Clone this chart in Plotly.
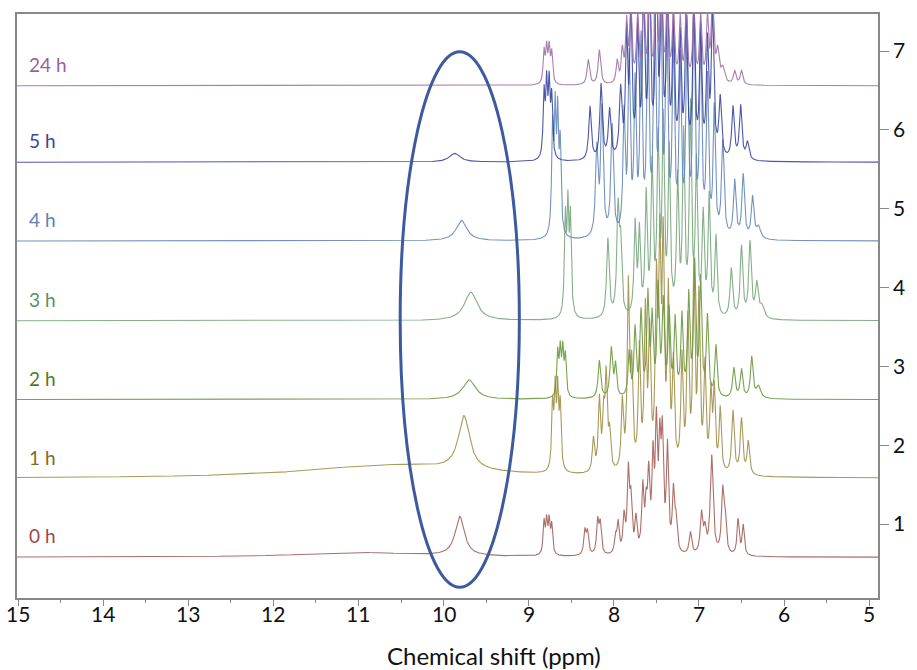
import numpy as np
import plotly.graph_objects as go

# ---------------- data ----------------
labels = ["0 h", "1 h", "2 h", "3 h", "4 h", "5 h", "24 h"]
offsets = [0.58, 1.58, 2.58, 3.58, 4.59, 5.59, 6.56]
line_colors = ["#a3605a", "#a09048", "#6a9a3c", "#78a87e", "#6688bb", "#3a46a0", "#a070a8"]
label_colors = ["#9a4a45", "#7f6a1e", "#4f7a26", "#5b8f62", "#6080b0", "#3a4598", "#9a5fa0"]

# peak lists: (shift ppm, height, fwhm ppm)
peaks_0h = [(11.0, 0.06, 1.6), (9.81, 0.50, 0.13),
            (8.82, 0.40, 0.025), (8.79, 0.40, 0.025), (8.76, 0.40, 0.025), (8.73, 0.36, 0.025),
            (8.34, 0.30, 0.03), (8.31, 0.28, 0.03), (8.19, 0.42, 0.03), (8.16, 0.38, 0.03),
            (7.98, 0.20, 0.03), (7.95, 0.38, 0.03), (7.88, 0.45, 0.03), (7.83, 1.00, 0.03),
            (7.80, 0.62, 0.03), (7.74, 0.42, 0.03), (7.66, 0.80, 0.03), (7.62, 0.50, 0.03),
            (7.59, 0.90, 0.03), (7.54, 1.10, 0.03), (7.50, 1.50, 0.03), (7.46, 1.20, 0.03),
            (7.43, 1.35, 0.03), (7.37, 1.30, 0.03), (7.30, 0.75, 0.03), (7.27, 0.38, 0.03),
            (7.10, 0.28, 0.035), (6.97, 0.50, 0.035), (6.93, 0.28, 0.035), (6.85, 1.25, 0.04),
            (6.72, 0.80, 0.035), (6.69, 0.38, 0.03), (6.54, 0.45, 0.03), (6.48, 0.38, 0.03)]

peaks_1h = [(10.6, 0.17, 2.4), (9.76, 0.68, 0.16),
            (8.72, 0.80, 0.025), (8.69, 0.95, 0.025), (8.66, 0.95, 0.025), (8.63, 0.80, 0.025),
            (8.24, 0.42, 0.03), (8.17, 0.90, 0.03), (8.12, 0.65, 0.03), (8.09, 1.15, 0.03),
            (8.05, 0.45, 0.03), (7.90, 0.85, 0.03), (7.83, 2.30, 0.03), (7.79, 1.20, 0.03),
            (7.70, 1.50, 0.03), (7.63, 1.95, 0.03), (7.58, 1.65, 0.03), (7.50, 2.20, 0.03),
            (7.46, 2.60, 0.03), (7.42, 2.70, 0.03), (7.36, 2.15, 0.03), (7.30, 1.30, 0.03),
            (7.20, 1.40, 0.03), (7.13, 1.85, 0.03), (7.06, 2.50, 0.03), (7.00, 2.15, 0.03),
            (6.93, 1.30, 0.03), (6.86, 0.95, 0.03), (6.82, 1.00, 0.03), (6.75, 0.80, 0.03),
            (6.60, 0.80, 0.035), (6.50, 0.70, 0.035), (6.42, 0.42, 0.035)]

peaks_2h = [(9.70, 0.25, 0.18),
            (8.66, 0.55, 0.025), (8.63, 0.56, 0.025), (8.60, 0.56, 0.025), (8.57, 0.50, 0.025),
            (8.17, 0.48, 0.035), (8.03, 0.62, 0.035), (7.98, 0.40, 0.03),
            (7.82, 0.56, 0.03), (7.75, 0.85, 0.03), (7.68, 1.05, 0.03), (7.60, 1.25, 0.03),
            (7.55, 0.95, 0.03), (7.48, 1.35, 0.03), (7.42, 1.15, 0.03), (7.35, 1.05, 0.03),
            (7.28, 0.95, 0.03), (7.20, 1.00, 0.03), (7.12, 1.25, 0.03), (7.05, 1.65, 0.03),
            (6.98, 1.45, 0.03), (6.90, 1.00, 0.03), (6.80, 0.65, 0.03),
            (6.59, 0.38, 0.035), (6.50, 0.36, 0.035), (6.38, 0.52, 0.035), (6.30, 0.15, 0.06)]

peaks_3h = [(9.68, 0.36, 0.18),
            (8.57, 1.20, 0.025), (8.54, 1.30, 0.025), (8.51, 1.20, 0.025),
            (8.07, 1.00, 0.035), (7.95, 1.35, 0.035), (7.92, 0.80, 0.03),
            (7.75, 1.15, 0.03), (7.70, 1.05, 0.03), (7.62, 1.50, 0.03), (7.55, 1.85, 0.03),
            (7.48, 2.15, 0.03), (7.42, 2.40, 0.03), (7.35, 2.05, 0.03), (7.25, 1.70, 0.03),
            (7.18, 2.25, 0.03), (7.10, 2.60, 0.03), (7.03, 1.90, 0.03), (6.95, 1.25, 0.03),
            (6.88, 1.50, 0.03), (6.80, 1.00, 0.03),
            (6.62, 0.62, 0.035), (6.50, 0.90, 0.035), (6.40, 0.95, 0.035), (6.32, 0.42, 0.04),
            (6.26, 0.15, 0.06)]

peaks_4h = [(9.79, 0.26, 0.15),
            (8.72, 1.30, 0.025), (8.69, 1.45, 0.025), (8.66, 1.40, 0.025), (8.63, 1.10, 0.025),
            (8.20, 1.10, 0.035), (8.14, 1.60, 0.035), (8.02, 1.40, 0.035),
            (7.88, 1.50, 0.03), (7.82, 2.20, 0.03), (7.75, 1.85, 0.03), (7.68, 2.40, 0.03),
            (7.60, 2.70, 0.03), (7.52, 3.00, 0.03), (7.45, 3.20, 0.03), (7.38, 2.80, 0.03),
            (7.30, 2.40, 0.03), (7.22, 2.15, 0.03), (7.14, 2.60, 0.03), (7.06, 3.00, 0.03),
            (6.98, 2.40, 0.03), (6.90, 1.95, 0.03), (6.82, 1.60, 0.03), (6.72, 1.20, 0.035),
            (6.58, 0.72, 0.035), (6.48, 0.80, 0.035), (6.37, 0.52, 0.035), (6.30, 0.15, 0.06)]

peaks_5h = [(9.87, 0.11, 0.15),
            (8.82, 0.80, 0.025), (8.79, 0.88, 0.025), (8.76, 0.88, 0.025), (8.73, 0.75, 0.025),
            (8.28, 0.68, 0.035), (8.15, 0.95, 0.035), (8.05, 0.62, 0.035), (7.92, 0.85, 0.035),
            (7.85, 1.50, 0.03), (7.80, 1.85, 0.03), (7.72, 1.60, 0.03), (7.65, 2.05, 0.03),
            (7.58, 2.25, 0.03), (7.50, 2.40, 0.03), (7.44, 2.30, 0.03), (7.37, 2.05, 0.03),
            (7.30, 1.70, 0.03), (7.22, 1.50, 0.03), (7.15, 1.80, 0.03), (7.06, 2.00, 0.03),
            (6.98, 1.60, 0.03), (6.90, 1.40, 0.03), (6.84, 1.80, 0.035), (6.75, 0.75, 0.035),
            (6.60, 0.66, 0.035), (6.51, 0.68, 0.035), (6.43, 0.22, 0.04)]

peaks_24h = [(8.82, 0.40, 0.025), (8.79, 0.43, 0.025), (8.76, 0.43, 0.025), (8.73, 0.38, 0.025),
             (8.30, 0.32, 0.035), (8.17, 0.44, 0.035), (7.96, 0.28, 0.03), (7.90, 0.40, 0.03),
             (7.85, 0.75, 0.03), (7.80, 0.95, 0.03), (7.72, 0.85, 0.03), (7.65, 1.05, 0.03),
             (7.58, 1.15, 0.03), (7.50, 1.25, 0.03), (7.44, 1.20, 0.03), (7.37, 1.05, 0.03),
             (7.30, 0.90, 0.03), (7.22, 0.80, 0.03), (7.15, 0.90, 0.03), (7.06, 1.00, 0.03),
             (6.98, 0.85, 0.03), (6.90, 0.80, 0.03), (6.84, 1.05, 0.035), (6.78, 0.38, 0.04),
             (6.72, 0.18, 0.05), (6.58, 0.17, 0.035), (6.50, 0.18, 0.035)]

peak_lists = [peaks_0h, peaks_1h, peaks_2h, peaks_3h, peaks_4h, peaks_5h, peaks_24h]

# highlighted region (ellipse) in data coordinates
ellipse_x = [10.51, 9.11]
ellipse_y = [0.20, 6.99]

x_ticks = list(range(5, 16))
y_ticks = list(range(1, 8))
x_title = "Chemical shift (ppm)"

# ---------------- figure ----------------
ppm = np.linspace(15.05, 4.85, 6000)
FONT = "Lato, Open Sans, Liberation Sans, sans-serif"


def spectrum(peaks):
    y = np.zeros_like(ppm)
    for c, h, w in peaks:
        y += h / (1.0 + ((ppm - c) / (w / 2.0)) ** 2)
    return y


fig = go.Figure()
for lab, off, col, pk in zip(labels, offsets, line_colors, peak_lists):
    fig.add_trace(go.Scatter(x=ppm, y=spectrum(pk) + off, mode="lines",
                             line=dict(color=col, width=1.1), opacity=0.9, name=lab,
                             showlegend=False, hoverinfo="skip"))

for lab, off, col in zip(labels, offsets, label_colors):
    fig.add_annotation(x=14.90, y=off + 0.27, text=lab, showarrow=False,
                       xanchor="left", yanchor="middle",
                       font=dict(family=FONT, size=19, color=col))

fig.add_shape(type="circle", xref="x", yref="y",
              x0=ellipse_x[0], x1=ellipse_x[1], y0=ellipse_y[0], y1=ellipse_y[1],
              line=dict(color="#3d5a9e", width=3))

# x tick labels placed just under the axis
for t in x_ticks:
    fig.add_annotation(xref="x", yref="paper", x=t, y=-0.027, text=str(t), showarrow=False,
                       xanchor="center", yanchor="middle",
                       font=dict(family=FONT, size=21, color="#111"))

fig.add_annotation(xref="paper", yref="paper", x=0.554, y=-0.099, text=x_title,
                   showarrow=False, xanchor="center", yanchor="middle",
                   font=dict(family=FONT, size=24, color="#111"))

fig.update_layout(
    width=917, height=670,
    margin=dict(l=17, r=28, t=13, b=72),
    paper_bgcolor="white", plot_bgcolor="white",
    font=dict(family=FONT, color="#111"),
)
fig.update_xaxes(range=[15.012, 4.896], tickvals=x_ticks, ticks="outside", ticklen=6,
                 tickcolor="#888", showline=True, linecolor="#888", linewidth=1.5, mirror=True,
                 showgrid=False, zeroline=False, showticklabels=False,
                 minor=dict(dtick=0.5, ticks="outside", ticklen=3, tickcolor="#888"))
fig.update_yaxes(range=[0.063, 7.47], tickvals=y_ticks, side="right", ticks="outside", ticklen=9,
                 tickcolor="#888", showline=True, linecolor="#888", linewidth=1.5, mirror=True,
                 showgrid=False, zeroline=False, tickfont=dict(size=21))

fig.write_html("out.html")
